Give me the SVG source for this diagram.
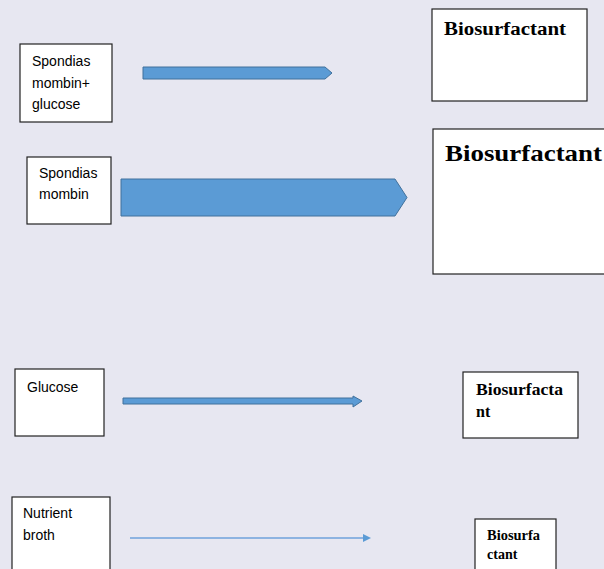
<svg xmlns="http://www.w3.org/2000/svg" width="604" height="569" viewBox="0 0 604 569">
<style>
.box{fill:#fff;stroke:#222;stroke-width:1.2}
.lbl{font-family:"Liberation Sans",Arial,sans-serif;font-size:14px;fill:#000}
.bio{font-family:"Liberation Serif","Times New Roman",serif;font-weight:bold;fill:#000}
.arr{fill:#5B9BD5;stroke:#41719C;stroke-width:1}
</style>
<rect width="604" height="569" fill="#E7E7F1"/>
<g id="src1"><rect class="box" x="20" y="44" width="92" height="78"/>
<text class="lbl" x="32" y="66">Spondias</text><text class="lbl" x="32" y="88">mombin+</text><text class="lbl" x="32" y="109">glucose</text></g>
<g id="src2"><rect class="box" x="27" y="157" width="84" height="67"/>
<text class="lbl" x="39" y="178">Spondias</text><text class="lbl" x="39" y="199">mombin</text></g>
<g id="src3"><rect class="box" x="15" y="369" width="89" height="67"/>
<text class="lbl" x="27" y="392">Glucose</text></g>
<g id="src4"><rect class="box" x="12" y="497" width="98" height="80"/>
<text class="lbl" x="23" y="518">Nutrient</text><text class="lbl" x="23" y="540">broth</text></g>
<g id="bio1"><rect class="box" x="432" y="9" width="155" height="92"/>
<text class="bio" x="444" y="35" font-size="18" textLength="122" lengthAdjust="spacingAndGlyphs">Biosurfactant</text></g>
<g id="bio2"><rect class="box" x="433" y="129" width="180" height="145"/>
<text class="bio" x="445" y="161" font-size="24" textLength="157" lengthAdjust="spacingAndGlyphs">Biosurfactant</text></g>
<g id="bio3"><rect class="box" x="463" y="372" width="115" height="66"/>
<text class="bio" x="476" y="395" font-size="16" textLength="87" lengthAdjust="spacingAndGlyphs">Biosurfacta</text><text class="bio" x="476" y="417" font-size="16">nt</text></g>
<g id="bio4"><rect class="box" x="475" y="519" width="81" height="60"/>
<text class="bio" x="487" y="540" font-size="14" textLength="53" lengthAdjust="spacingAndGlyphs">Biosurfa</text><text class="bio" x="487" y="559" font-size="14">ctant</text></g>
<g id="connectors">
<polygon class="arr" points="143,67 325,67 332,73 325,79 143,79"/>
<polygon class="arr" points="121,179 395,179 407,197.5 395,216 121,216"/>
<polygon class="arr" points="123,398 353,398 353,396 362,401 353,407 353,404 123,404"/>
<line x1="130" y1="538" x2="364" y2="538" stroke="#6FA2DB" stroke-width="1.3"/>
<polygon points="363,534 371,538 363,542" fill="#5B9BD5"/>
</g>
</svg>
